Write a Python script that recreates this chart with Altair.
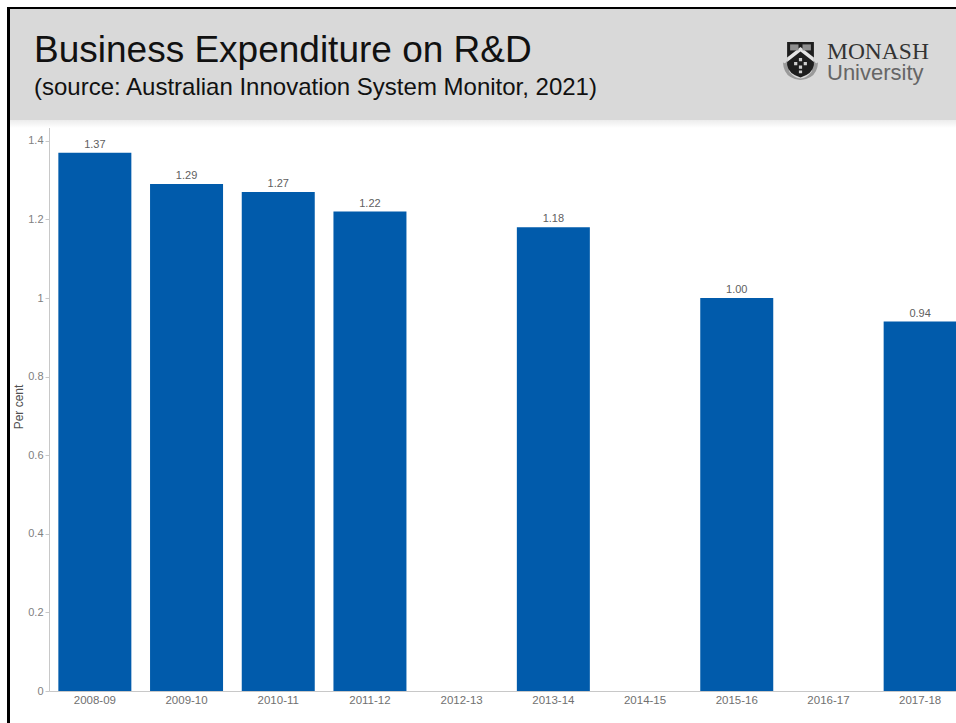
import altair as alt
import pandas as pd

years = ["2008-09", "2009-10", "2010-11", "2011-12", "2012-13",
         "2013-14", "2014-15", "2015-16", "2016-17", "2017-18"]
values = [1.37, 1.29, 1.27, 1.22, None, 1.18, None, 1.00, None, 0.94]

TITLE = "Business Expenditure on R&D"
SUBTITLE = "(source: Australian Innovation System Monitor, 2021)"

# Offsets of the plot area inside the 956x723 canvas
LEFT, TOP, BOTTOM = 49, 122, 32
W, H = 956 - LEFT, 723 - TOP - BOTTOM
BLUE = "#015bab"

df = pd.DataFrame({"year": years, "value": values})

x = alt.X("year:N", sort=years, title=None,
          scale=alt.Scale(range=[0, 917], paddingInner=0.205, paddingOuter=0.1025),
          axis=alt.Axis(labelAngle=0, labelFontSize=11.5, labelColor="#707070", labelPadding=3,
                        labelFont="Liberation Sans", tickSize=0, domainColor="#c8c8c8",
                        labelOverlap=False, labelBound=False, labelFlush=False))
y = alt.Y("value:Q", title="Per cent",
          scale=alt.Scale(domain=[0, 1.448], nice=False),
          axis=alt.Axis(values=[0, 0.2, 0.4, 0.6, 0.8, 1, 1.2, 1.4], format="~g", grid=False,
                        labelFontSize=11, labelColor="#808080", labelFont="Liberation Sans",
                        tickSize=4, tickColor="#c8c8c8", domainColor="#c8c8c8", labelPadding=2,
                        titleFontSize=12, titleFontWeight="normal", titleColor="#505050",
                        titleFont="Liberation Sans", titleX=-27, titleBaseline="alphabetic"))

bars = alt.Chart(df).mark_bar(color=BLUE, size=73, clip=True).encode(x=x, y=y)
labels = alt.Chart(df).mark_text(
    dy=-8, fontSize=11, color="#606060", font="Liberation Sans"
).encode(x=alt.X("year:N", sort=years), y=alt.Y("value:Q"), text=alt.Text("value:Q", format=".2f"))


def canvas_rect(x0, y0, x1, y1, **mark):
    """Rectangle placed in canvas pixels rather than through the data scales."""
    return alt.Chart(df.head(1)).mark_rect(clip=False, **mark).encode(
        x=alt.value(x0 - LEFT), x2=alt.value(x1 - LEFT),
        y=alt.value(y0 - TOP), y2=alt.value(y1 - TOP))


def canvas_text(text, x0, y0, **mark):
    return alt.Chart(df.head(1)).mark_text(align="left", baseline="alphabetic", text=text, **mark).encode(
        x=alt.value(x0 - LEFT), y=alt.value(y0 - TOP))


def crest_part(path, colour, cx=800.5, cy=60, half=20):
    return alt.Chart(df.head(1)).mark_point(
        shape=path, filled=True, fill=colour, opacity=1, strokeWidth=0, size=4 * half * half
    ).encode(x=alt.value(cx - LEFT), y=alt.value(cy - TOP))


# Header band, its soft lower edge and the slide frame
band = canvas_rect(9, 9, 956, 120, color="#d9d9d9")
fade = canvas_rect(9, 120, 956, 128, color=alt.LinearGradient(
    gradient="linear", x1=0, x2=0, y1=0, y2=1,
    stops=[alt.GradientStop(offset=0, color="#ececec"), alt.GradientStop(offset=1, color="#ffffff")]))
frame_top = canvas_rect(7, 7, 956, 9, color="#000000")
frame_left = canvas_rect(7, 7, 10, 723, color="#000000")

title = canvas_text(TITLE, 34, 62, fontSize=37, font="Liberation Sans", color="#111111")
subtitle = canvas_text(SUBTITLE, 34, 95, fontSize=24, font="Liberation Sans", color="#111111")

# University mark: crest built from a scroll, a shield, a chevron and small roundels
scroll = crest_part("M-0.88 0.1 Q-0.8 0.25 -0.68 0.05 L-0.55 0.6 Q0 1.25 0.55 0.6 L0.68 0.05 Q0.8 0.25 0.88 0.1 "
                    "Q0.85 0.65 0.5 0.85 Q0 1.15 -0.5 0.85 Q-0.85 0.65 -0.88 0.1 Z", "#9a9a9a")
shield = crest_part("M-0.67 -0.9 L0.67 -0.9 L0.67 0.25 Q0.6 0.7 0 0.87 Q-0.6 0.7 -0.67 0.25 Z", "#1e1e1e")
chevron = crest_part("M-0.67 0.1 L0 -0.42 L0.67 0.1 L0.67 -0.12 L0 -0.65 L-0.67 -0.12 Z", "#e4e4e4")
box_a = crest_part("M-0.52 -0.78 L-0.1 -0.78 L-0.1 -0.48 L-0.52 -0.48 Z", "#8f8f8f")
box_b = crest_part("M0.1 -0.78 L0.52 -0.78 L0.52 -0.48 L0.1 -0.48 Z", "#8f8f8f")
dots = crest_part("M-0.08 -0.1 h0.16 v0.16 h-0.16 Z M-0.32 0.1 h0.16 v0.16 h-0.16 Z M0.16 0.1 h0.16 v0.16 h-0.16 Z "
                  "M-0.08 0.28 h0.16 v0.16 h-0.16 Z M-0.08 0.52 h0.16 v0.14 h-0.16 Z", "#cfcfcf")
monash = canvas_text("MONASH", 827, 59, fontSize=23.5, font="Liberation Serif", color="#333333")
university = canvas_text("University", 827, 80, fontSize=22, font="Liberation Sans", color="#666666")

chart = alt.layer(
    band, fade, bars, labels, frame_top, frame_left, title, subtitle,
    scroll, shield, chevron, box_a, box_b, dots, monash, university
).resolve_scale(x="shared", y="shared").properties(
    width=W, height=H,
    padding={"left": LEFT, "top": TOP, "right": 0, "bottom": BOTTOM},
    autosize=alt.AutoSizeParams(type="none"),
    background="#ffffff",
).configure_view(stroke=None)

chart.save("out.html", embed_options={"renderer": "svg", "actions": False})
